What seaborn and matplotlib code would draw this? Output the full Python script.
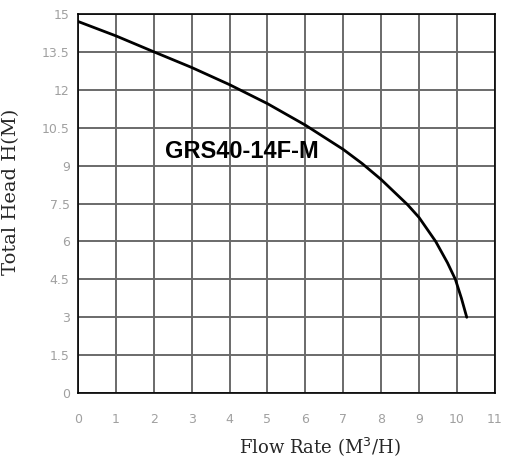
import numpy as np
import pandas as pd
import matplotlib
matplotlib.use('Agg')
import matplotlib.pyplot as plt
import seaborn as sns

# %%
flow = [0, 1, 2, 3, 4, 5, 6, 7, 7.5, 8, 8.7, 9, 9.44, 9.75, 9.96, 10.12, 10.26]
head = [14.7, 14.13, 13.5, 12.88, 12.2, 11.45, 10.6, 9.64, 9.08, 8.45, 7.45, 6.95, 6.0, 5.16, 4.5, 3.75, 3.0]
x_ticks = list(range(0, 12))
y_ticks = [0, 1.5, 3, 4.5, 6, 7.5, 9, 10.5, 12, 13.5, 15]
model = 'GRS40-14F-M'

df = pd.DataFrame({'flow': flow, 'head': head})

# %%
sns.set_style('white')
fig = plt.figure(figsize=(5.08, 4.62), dpi=100)
ax = fig.add_axes([0.1535, 0.149, 0.8205, 0.821])

sns.lineplot(data=df, x='flow', y='head', color='black', linewidth=2.0, ax=ax)

ax.set_xlim(0, 11)
ax.set_ylim(0, 15)
ax.set_xticks(x_ticks)
ax.set_yticks(y_ticks)
ax.set_xticklabels([str(t) for t in x_ticks])
ax.set_yticklabels([('%g' % t) for t in y_ticks])
ax.grid(True, color='#6a6a6a', linewidth=1.4)
ax.set_axisbelow(True)
for s in ax.spines.values():
    s.set_color('black')
    s.set_linewidth(1.2)

ax.tick_params(axis='x', length=0, pad=14, labelsize=9, labelcolor='#a0a0a0')
ax.tick_params(axis='y', length=0, pad=6, labelsize=9, labelcolor='#a0a0a0')

ax.text(2.3, 9.55, model, fontsize=17, fontweight='bold', family='Liberation Sans',
        ha='left', va='center', color='black')

ax.set_xlabel('Flow Rate (M$^3$/H)', family='DejaVu Serif', fontsize=13)
ax.xaxis.set_label_coords(0.58, -0.11)
ax.set_ylabel('Total Head H(M)', family='DejaVu Serif', fontsize=14)
ax.yaxis.set_label_coords(-0.14, 0.53)

plt.savefig('out.png', dpi=100)
